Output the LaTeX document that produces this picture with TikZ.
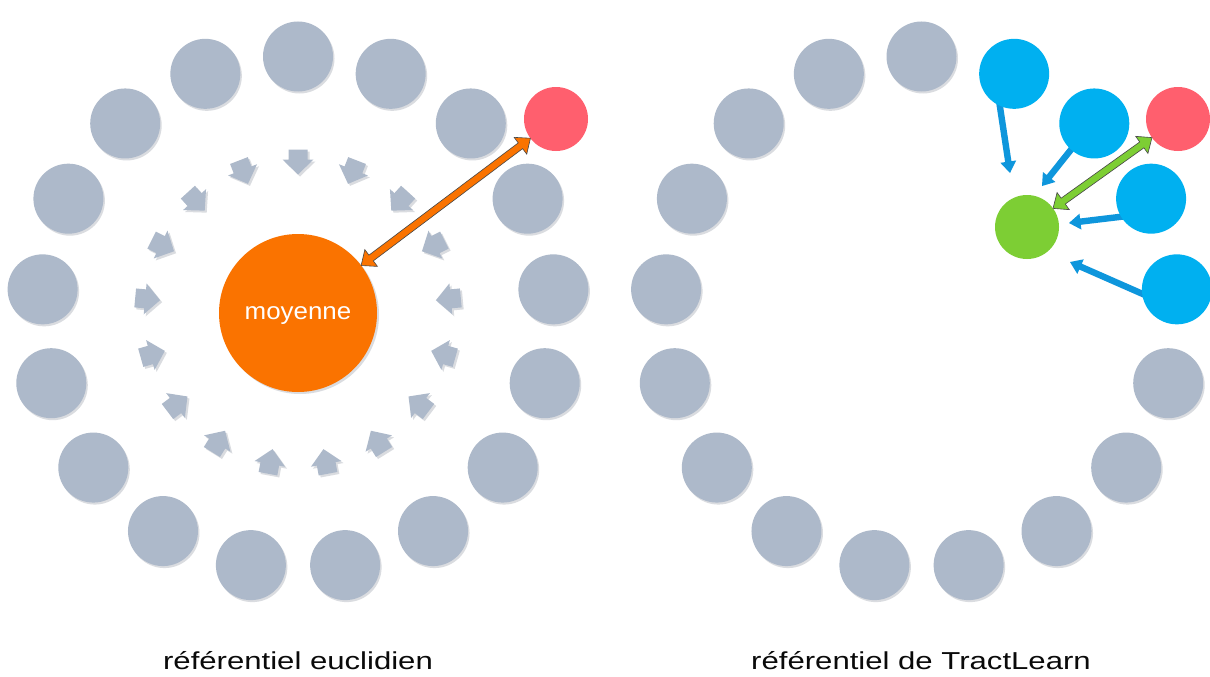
\documentclass[tikz,border=0pt]{standalone}
\usepackage{fontspec}
\setmainfont{Liberation Sans}
\usepackage{graphicx}
\usetikzlibrary{calc}
\definecolor{dotgray}{RGB}{173,185,202}
\definecolor{shadowgray}{RGB}{218,220,224}
\definecolor{moyorange}{RGB}{250,115,0}
\definecolor{pinkred}{RGB}{255,95,110}
\definecolor{skyblue}{RGB}{0,176,240}
\definecolor{arrowblue}{RGB}{14,150,220}
\definecolor{leafgreen}{RGB}{125,206,52}
\definecolor{edgegray}{RGB}{70,70,70}
\definecolor{textblack}{RGB}{10,10,10}
\pgfdeclarelayer{bg}
\pgfdeclarelayer{under}
\pgfsetlayers{bg,under,main}
% double-headed block arrow between two named points
\newcommand\DblArrow[6]{%
 \path[#1] (#2)
 -- ($($(#2)!#4!(#3)$)!#5!90:(#3)$)
 -- ($($(#2)!#4!(#3)$)!#6!90:(#3)$)
 -- ($($(#3)!#4!(#2)$)!#6!270:(#2)$)
 -- ($($(#3)!#4!(#2)$)!#5!270:(#2)$)
 -- (#3)
 -- ($($(#3)!#4!(#2)$)!#5!90:(#2)$)
 -- ($($(#3)!#4!(#2)$)!#6!90:(#2)$)
 -- ($($(#2)!#4!(#3)$)!#6!270:(#3)$)
 -- ($($(#2)!#4!(#3)$)!#5!270:(#3)$)
 -- cycle;}
% single-headed block arrow
\newcommand\OneArrow[6]{%
 \path[#1] ($(#2)!#6!90:(#3)$)
 -- ($($(#3)!#4!(#2)$)!#6!270:(#2)$)
 -- ($($(#3)!#4!(#2)$)!#5!270:(#2)$)
 -- (#3)
 -- ($($(#3)!#4!(#2)$)!#5!90:(#2)$)
 -- ($($(#3)!#4!(#2)$)!#6!90:(#2)$)
 -- ($(#2)!#6!270:(#3)$)
 -- cycle;}
\tikzset{
 graydot/.style={circle, minimum size=70pt, inner sep=0pt, outer sep=0pt, fill=dotgray},
 bluedot/.style={circle, minimum size=70pt, inner sep=0pt, outer sep=0pt, fill=skyblue},
 reddot/.style={circle, minimum size=64pt, inner sep=0pt, outer sep=0pt, fill=pinkred},
 greendot/.style={circle, minimum size=64pt, inner sep=0pt, outer sep=0pt, fill=leafgreen},
 moycircle/.style={circle, minimum size=158pt, inner sep=0pt, outer sep=0pt, fill=moyorange,
   text=white, font=\fontsize{24}{28}\selectfont, text depth=0pt},
 captiontext/.style={inner sep=0pt, text=textblack, font=\fontsize{24.5}{29}\selectfont, anchor=base},
 orangearrow/.style={draw=edgegray, line width=0.6pt, fill=moyorange},
 greenarrow/.style={draw=edgegray, line width=0.6pt, fill=leafgreen},
 bluearrow/.style={fill=arrowblue},
 pics/chevron/.style={code={\fill[#1] (-12.5pt,-9.5pt) -- (-2.5pt,-9.5pt) -- (-2.5pt,-15.5pt) -- (12.5pt,0pt) -- (-2.5pt,15.5pt) -- (-2.5pt,9.5pt) -- (-12.5pt,9.5pt) -- cycle;}}
}
\begin{document}
\begin{tikzpicture}[x=1pt,y=-1pt]
\useasboundingbox (0,0) rectangle (1210,677);
\begin{pgfonlayer}{bg}
\fill[white] (0,0) rectangle (1210,677);
\end{pgfonlayer}
\coordinate (cL) at (298,313);
\coordinate (cR) at (921.5,313);
% ---------- left: euclidean ----------
\foreach \k in {0,...,16}{
  \pgfmathsetmacro\a{90+360*\k/17}
  \fill[shadowgray] ($(cL)+(-\a:256.5)+(1.5,2)$) circle[radius=35pt];
  \node[graydot] (L\k) at ($(cL)+(-\a:256.5)$) {};
  \pic[rotate=\a+180] at ($(cL)+(-\a:151)+(2,2)$) {chevron=shadowgray};
  \pic[rotate=\a+180] at ($(cL)+(-\a:151)$) {chevron=dotgray};
}
\fill[shadowgray] ($(cL)+(2,2)$) circle[radius=79pt];
\node[moycircle] (moy) at (cL) {\scalebox{1.08}[1]{moyenne}};
\node[reddot] (redL) at (556,119) {};
\coordinate (o1) at ($(moy)!79pt!(redL)$);
\coordinate (o2) at ($(redL)!32pt!(moy)$);
\DblArrow{orangearrow}{o1}{o2}{12.5pt}{10.5pt}{3.6pt}
% ---------- right: TractLearn ----------
\foreach \k in {0,...,12}{
  \pgfmathsetmacro\a{90+360*\k/17}
  \fill[shadowgray] ($(cR)+(-\a:256.5)+(1.5,2)$) circle[radius=35pt];
  \node[graydot] (R\k) at ($(cR)+(-\a:256.5)$) {};
}
\foreach \k/\n in {16/1,15/2,14/3,13/4}{
  \pgfmathsetmacro\a{90+360*\k/17}
  \node[bluedot] (B\n) at ($(cR)+(-\a:256.5)$) {};
}
\node[greendot] (gr) at (1027,227) {};
\node[reddot] (redR) at (1178,119) {};
\coordinate (s1) at ($(B1)+(-16,21)$);
\coordinate (s2) at ($(B2)+(-16,17)$);
\coordinate (s3) at ($(B3)+(-21,17)$);
\coordinate (s4) at ($(B4)+(-22,10)$);
\coordinate (t1) at ($(gr)+(-17,-54)$);
\coordinate (t2) at ($(gr)+(15,-41)$);
\coordinate (t3) at ($(gr)+(42,-4)$);
\coordinate (t4) at ($(gr)+(43,35)$);
\begin{pgfonlayer}{under}
\OneArrow{bluearrow}{s1}{t1}{11.5pt}{8pt}{3.2pt}
\OneArrow{bluearrow}{s2}{t2}{11.5pt}{8pt}{3.2pt}
\OneArrow{bluearrow}{s3}{t3}{11.5pt}{8pt}{3.2pt}
\OneArrow{bluearrow}{s4}{t4}{11.5pt}{8pt}{3.2pt}
\end{pgfonlayer}
\coordinate (g1) at ($(gr)!32pt!(redR)$);
\coordinate (g2) at ($(redR)!32pt!(gr)$);
\DblArrow{greenarrow}{g1}{g2}{12.5pt}{10.5pt}{3.6pt}
% ---------- captions ----------
\node[captiontext] (cap1) at (298,669) {\scalebox{1.27}[1]{référentiel euclidien}};
\node[captiontext] (cap2) at (921,669) {\scalebox{1.27}[1]{référentiel de TractLearn}};
\end{tikzpicture}
\end{document}
